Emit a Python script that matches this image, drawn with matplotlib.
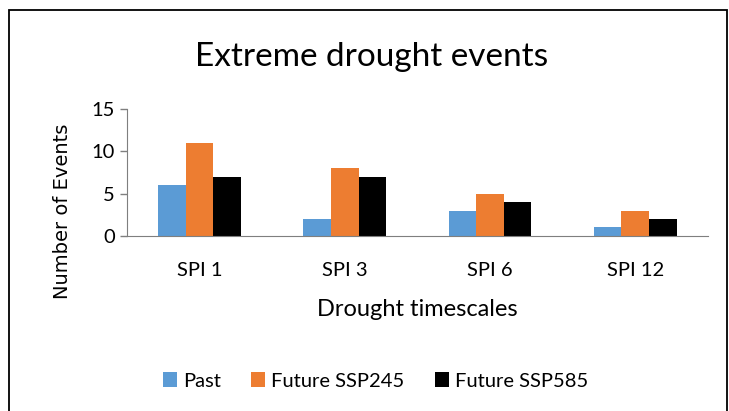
import matplotlib.pyplot as plt
import numpy as np
from matplotlib.patches import Rectangle

categories = ['SPI 1', 'SPI 3', 'SPI 6', 'SPI 12']
past = [6, 2, 3, 1]
ssp245 = [11, 8, 5, 3]
ssp585 = [7, 7, 4, 2]

plt.rcParams['font.family'] = ['Lato', 'DejaVu Sans']

fig = plt.figure(figsize=(7.29, 4.11), dpi=100)
ax = fig.add_axes([0.174, 0.426, 0.797, 0.309])

x = np.arange(len(categories))
w = 0.19
ax.bar(x - w, past, w, color='#5B9BD5', label='Past')
ax.bar(x, ssp245, w, color='#ED7D31', label='Future SSP245')
ax.bar(x + w, ssp585, w, color='black', label='Future SSP585')

ax.set_xlim(-0.5, 3.5)
ax.set_ylim(0, 15)
ax.set_yticks([0, 5, 10, 15])
ax.set_xticks(x)
ax.set_xticklabels(categories)
ax.tick_params(axis='x', length=0, pad=19, labelsize=14.5)
ax.tick_params(axis='y', length=5, width=1, color='#7f7f7f', labelsize=14.5)
for s in ['top', 'right']:
    ax.spines[s].set_visible(False)
for s in ['left', 'bottom']:
    ax.spines[s].set_color('#7f7f7f')

ax.set_xlabel('Drought timescales', fontsize=17, labelpad=14)
ax.set_ylabel('Number of Events', fontsize=14, family='DejaVu Sans')
ax.yaxis.set_label_coords(-0.095, 0.19)
fig.text(0.51, 0.862, 'Extreme drought events', ha='center', va='center', fontsize=24)

fig.legend(loc='center', bbox_to_anchor=(0.515, 0.073), ncol=3, frameon=False,
           fontsize=14.5, handlelength=0.7, handleheight=0.7, handletextpad=0.3,
           columnspacing=1.5)

fig.patches.append(Rectangle((0.012, -0.1), 0.985, 1.076, transform=fig.transFigure,
                             fill=False, edgecolor='black', linewidth=1.3))

fig.savefig('out.png', dpi=100)
